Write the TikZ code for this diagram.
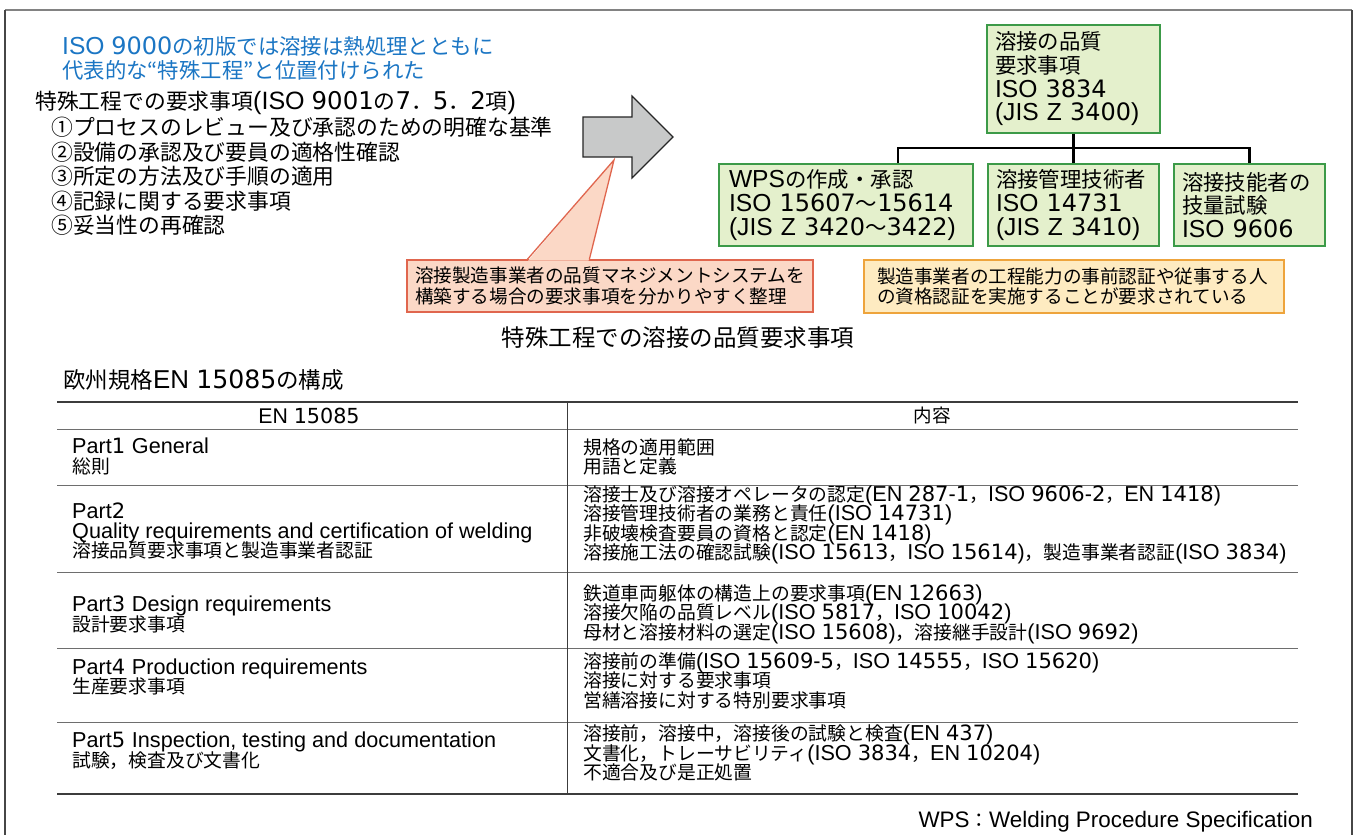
\documentclass[tikz,border=0pt]{standalone}
\usepackage{fontspec}
\setmainfont{Liberation Sans}[Scale=1.15]
\newfontfamily\latf{Liberation Sans}[Scale=1.15]
\newfontfamily\digf{DejaVu Sans}[Scale=1.12]
\newfontfamily\cjkf{Noto Sans CJK JP}
\makeatletter
\XeTeXinterchartokenstate=1
\newXeTeXintercharclass\cjkclass
\newXeTeXintercharclass\digclass
\newcount\cjkcnt
\def\cjkrange#1#2#3{\cjkcnt=#1\relax
  \loop\XeTeXcharclass\cjkcnt=#3\relax
  \ifnum\cjkcnt<#2\relax\advance\cjkcnt by 1\relax\repeat}
\cjkrange{"2460}{"24FF}{\cjkclass}
\cjkrange{"3000}{"30FF}{\cjkclass}
\cjkrange{"4E00}{"9FFF}{\cjkclass}
\cjkrange{"FF01}{"FF60}{\cjkclass}
\cjkrange{"30}{"39}{\digclass}
\XeTeXcharclass"201C=\cjkclass\relax
\XeTeXcharclass"201D=\cjkclass\relax
\XeTeXinterchartoks 0 \cjkclass = {\cjkf}
\XeTeXinterchartoks \cjkclass 0 = {\latf}
\XeTeXinterchartoks 0 \digclass = {\digf}
\XeTeXinterchartoks \digclass 0 = {\latf}
\XeTeXinterchartoks \cjkclass \digclass = {\digf}
\XeTeXinterchartoks \digclass \cjkclass = {\cjkf}
\XeTeXinterchartoks \e@alloc@intercharclass@top \cjkclass = {\cjkf}
\XeTeXinterchartoks \e@alloc@intercharclass@top 0 = {\latf}
\XeTeXinterchartoks \e@alloc@intercharclass@top \digclass = {\digf}
\makeatother
\usetikzlibrary{calc}
\definecolor{isoblue}{RGB}{27,118,196}
\definecolor{grnfill}{RGB}{228,240,204}
\definecolor{grnline}{RGB}{60,154,72}
\definecolor{redfill}{RGB}{251,216,198}
\definecolor{redline}{RGB}{224,102,78}
\definecolor{orgfill}{RGB}{254,235,193}
\definecolor{orgline}{RGB}{238,164,60}
\definecolor{arrfill}{RGB}{200,201,201}
\definecolor{frametop}{RGB}{130,130,130}
\definecolor{frameside}{RGB}{70,70,70}
\definecolor{rulecol}{RGB}{60,60,60}
\definecolor{rowcol}{RGB}{110,110,110}
\newcommand\fsz[2]{\fontsize{#1}{#2}\selectfont\lineskiplimit=-30pt\relax}
\begin{document}
\begin{tikzpicture}[x=1pt,y=-1pt,
  txt/.style={inner sep=0pt, align=left},
  gbox/.style={draw=grnline, fill=grnfill, line width=1.3pt, align=left, inner xsep=8pt, inner ysep=0pt, font=\fsz{21.4}{23.7}},
  notebox/.style={line width=1.3pt, align=left, inner ysep=0pt, font=\fsz{18.6}{20.5}},
  cell/.style={inner sep=0pt, align=left, anchor=west, font=\fsz{18.8}{19.5}},
  head/.style={inner sep=0pt, font=\fsz{18.5}{19.5}},
  thick rule/.style={draw=rulecol, line width=1.5pt},
  thin rule/.style={draw=rowcol, line width=1pt}]
\useasboundingbox (0,0) rectangle (1357,835);
\fill[white] (0,0) rectangle (1357,835);
% outer frame
\draw[frametop, line width=1.5pt] (5,10) -- (1352,10);
\draw[frameside, line width=1.5pt] (5,10) -- (5,840);
\draw[frameside, line width=1.5pt] (1352,10) -- (1352,840);

% left texts
\node[txt, anchor=west, text=isoblue, font=\fsz{21.4}{23.5}] (intro) at (62,58.5)
  {ISO 9000の初版では溶接は熱処理とともに\\代表的な“特殊工程”と位置付けられた};
\node[txt, anchor=west, font=\fsz{21.8}{24.4}] (reqhead) at (35,103)
  {特殊工程での要求事項(ISO 9001の7．5．2項)};
\node[txt, anchor=west, font=\fsz{21.8}{24.4}] (reqlist) at (51,176.5)
  {①プロセスのレビュー及び承認のための明確な基準\\②設備の承認及び要員の適格性確認\\③所定の方法及び手順の適用\\④記録に関する要求事項\\⑤妥当性の再確認};

% big arrow
\coordinate (arrtip) at (673,137);
\draw[fill=arrfill, draw=black!85, line width=1.2pt, line join=miter]
  (583,117) -- (632,117) -- (632,96) -- (arrtip) -- (632,178) -- (632,157) -- (583,157) -- cycle;

% red callout
\node[notebox, draw=redline, fill=redfill, text width=390pt, inner xsep=8pt, minimum height=52pt] (note1) at (610,286)
  {溶接製造事業者の品質マネジメントシステムを\\構築する場合の要求事項を分かりやすく整理};
\coordinate (ptip) at (614,160);
\coordinate (pbl) at ($(note1.north west)+(121,0)$);
\coordinate (pbr) at ($(note1.north west)+(183,0)$);
\fill[redfill] ($(pbl)+(0.8,1.2)$) -- (ptip) -- ($(pbr)+(-0.8,1.2)$) -- cycle;
\draw[redline, line width=1.3pt, line join=miter] (pbl) -- (ptip) -- (pbr);

% green boxes
\node[gbox, text width=157pt, minimum height=108pt] (qreq) at (1073.5,79)
  {溶接の品質\\要求事項\\ISO 3834\\(JIS Z 3400)};
\node[gbox, inner xsep=10pt, text width=234pt, minimum height=82pt] (wps) at (846,205)
  {WPSの作成・承認\\ISO 15607～15614\\(JIS Z 3420～3422)};
\node[gbox, text width=155pt, minimum height=82pt] (coord) at (1073.5,205)
  {溶接管理技術者\\ISO 14731\\(JIS Z 3410)};
\node[gbox, text width=135pt, minimum height=82pt] (welder) at (1249.5,205)
  {溶接技能者の\\技量試験\\ISO 9606};
\coordinate (bus) at (1073.5,148);
\coordinate (wpsdrop) at ($(wps.north)+(52,0)$);
\draw[line width=2.6pt] (qreq.south) -- (bus);
\draw[line width=2.6pt, line cap=rect] (wpsdrop |- bus) -- (welder.north |- bus);
\draw[line width=2.6pt] (wpsdrop |- bus) -- (wpsdrop);
\draw[line width=2.6pt] (bus) -- (coord.north);
\draw[line width=2.6pt] (welder.north |- bus) -- (welder.north);

% orange note
\node[notebox, draw=orgline, fill=orgfill, text width=394pt, inner xsep=13pt, minimum height=53pt] (note2) at (1074,286.5)
  {製造事業者の工程能力の事前認証や従事する人\\の資格認証を実施することが要求されている};

% captions
\node[txt, font=\fsz{23.5}{26}] (cap1) at (678,338) {特殊工程での溶接の品質要求事項};
\node[txt, anchor=west, font=\fsz{22.5}{24}] (cap2) at (63,380) {欧州規格EN 15085の構成};

% table
\draw[thick rule] (57,402) -- (1298,402);
\draw[thin rule] (57,429) -- (1298,429);
\draw[thin rule] (57,485) -- (1298,485);
\draw[thin rule] (57,572) -- (1298,572);
\draw[thin rule] (57,648) -- (1298,648);
\draw[thin rule] (57,722) -- (1298,722);
\draw[thick rule] (57,794) -- (1298,794);
\draw[draw=rulecol, line width=1pt] (567,402) -- (567,794);

\node[head] (h1) at (309,415.5) {EN 15085};
\node[head] (h2) at (932,415.5) {内容};

\node[cell] (p1l) at (72,456.5) {Part1 General\\総則};
\node[cell] (p1r) at (583,457) {規格の適用範囲\\用語と定義};
\node[cell] (p2l) at (72,531) {Part2\\Quality requirements and certification of welding\\溶接品質要求事項と製造事業者認証};
\node[cell] (p2r) at (583,525) {溶接士及び溶接オペレータの認定(EN 287-1，ISO 9606-2，EN 1418)\\溶接管理技術者の業務と責任(ISO 14731)\\非破壊検査要員の資格と認定(EN 1418)\\溶接施工法の確認試験(ISO 15613，ISO 15614)，製造事業者認証(ISO 3834)};
\node[cell] (p3l) at (72,614.5) {Part3 Design requirements\\設計要求事項};
\node[cell] (p3r) at (583,614) {鉄道車両躯体の構造上の要求事項(EN 12663)\\溶接欠陥の品質レベル(ISO 5817，ISO 10042)\\母材と溶接材料の選定(ISO 15608)，溶接継手設計(ISO 9692)};
\node[cell] (p4l) at (72,677) {Part4 Production requirements\\生産要求事項};
\node[cell] (p4r) at (583,680.5) {溶接前の準備(ISO 15609-5，ISO 14555，ISO 15620)\\溶接に対する要求事項\\営繕溶接に対する特別要求事項};
\node[cell] (p5l) at (72,750.5) {Part5 Inspection, testing and documentation\\試験，検査及び文書化};
\node[cell] (p5r) at (583,753) {溶接前，溶接中，溶接後の試験と検査(EN 437)\\文書化，トレーサビリティ(ISO 3834，EN 10204)\\不適合及び是正処置};

\node[txt, anchor=east, font=\fsz{19.5}{21}] (foot) at (1313,822) {WPS：Welding Procedure Specification};
\end{tikzpicture}
\end{document}
